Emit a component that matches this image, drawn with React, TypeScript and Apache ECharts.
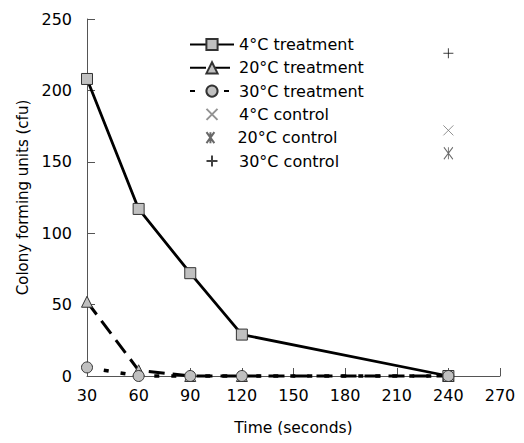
import React, { useEffect, useRef } from "react";
import * as echarts from "echarts";

const times = [30, 60, 90, 120, 240];
const t4 = [208, 117, 72, 29, 0];
const t20 = [52, 4, 0, 0, 0];
const t30 = [6, 0, 0, 0, 0];
const controlTime = 240;
const c4 = 172;
const c20 = 156;
const c30 = 226;
const legendNames = [
  "4°C treatment",
  "20°C treatment",
  "30°C treatment",
  "4°C control",
  "20°C control",
  "30°C control",
];

const FONT = "DejaVu Sans, Liberation Sans, Arial, sans-serif";

const crossPath = "path://M0,0L10,10M10,0L0,10";
const starPath = "path://M0,0L10,14M10,0L0,14M5,0L5,14";
const plusPath = "path://M5,0L5,10M0,5L10,5";

export default function App() {
  const ref = useRef<HTMLDivElement>(null);
  useEffect(() => {
    if (!ref.current) return;
    const chart = echarts.init(ref.current, undefined, { renderer: "svg" });
    const pair = (ys: number[]) => times.map((t, i) => [t, ys[i]]);
    const markerStyle = { color: "#c0c0c0", borderColor: "#333", borderWidth: 1 };
    const legendText = { fontSize: 16, color: "#000", fontFamily: FONT };
    const legends = legendNames.map((n, i) => ({
      orient: "vertical",
      left: i < 3 ? 189 : 204,
      top: 36.5 + i * 23.3,
      padding: 0,
      itemWidth: 44,
      itemHeight: i < 3 ? 14 : 11,
      textStyle: legendText,
      data: [n],
    }));
    chart.setOption({
      animation: false,
      backgroundColor: "#fff",
      textStyle: { fontFamily: FONT },
      grid: { left: 87, right: 24, top: 19, bottom: 67, containLabel: false },
      legend: legends,
      xAxis: {
        type: "value",
        min: 30,
        max: 270,
        interval: 30,
        name: "Time (seconds)",
        nameLocation: "middle",
        nameGap: 44,
        nameTextStyle: { fontSize: 15.5, color: "#000", fontFamily: FONT },
        axisLine: { lineStyle: { color: "#555", width: 1 } },
        axisTick: { inside: true, length: 8, lineStyle: { color: "#555" } },
        axisLabel: { fontSize: 16, color: "#000", margin: 11, fontFamily: FONT },
        splitLine: { show: false },
      },
      yAxis: {
        type: "value",
        min: 0,
        max: 250,
        interval: 50,
        name: "Colony forming units (cfu)",
        nameLocation: "middle",
        nameGap: 56,
        nameTextStyle: { fontSize: 15, color: "#000", fontFamily: FONT },
        axisLine: { show: true, lineStyle: { color: "#555", width: 1 } },
        axisTick: { show: true, inside: true, length: 8, lineStyle: { color: "#555" } },
        axisLabel: { fontSize: 16, color: "#000", margin: 15, fontFamily: FONT },
        splitLine: { show: false },
      },
      series: [
        {
          name: legendNames[0],
          type: "line",
          data: pair(t4),
          clip: false,
          symbol: "rect",
          symbolSize: 11,
          lineStyle: { color: "#000", width: 2.8, type: "solid" },
          itemStyle: markerStyle,
        },
        {
          name: legendNames[1],
          type: "line",
          data: pair(t20),
          clip: false,
          symbol: "triangle",
          symbolSize: 11,
          lineStyle: { color: "#000", width: 3, type: [16, 8] },
          itemStyle: markerStyle,
        },
        {
          name: legendNames[2],
          type: "line",
          data: pair(t30),
          clip: false,
          symbol: "circle",
          symbolSize: 11,
          lineStyle: { color: "#000", width: 3.5, type: [5, 12] },
          itemStyle: markerStyle,
        },
        {
          name: legendNames[3],
          type: "scatter",
          data: [[controlTime, c4]],
          symbol: crossPath,
          symbolSize: 10,
          itemStyle: { color: "none", borderColor: "#777", borderWidth: 1 },
        },
        {
          name: legendNames[4],
          type: "scatter",
          data: [[controlTime, c20]],
          symbol: starPath,
          symbolSize: [9, 12],
          itemStyle: { color: "none", borderColor: "#444", borderWidth: 1 },
        },
        {
          name: legendNames[5],
          type: "scatter",
          data: [[controlTime, c30]],
          symbol: plusPath,
          symbolSize: 10,
          itemStyle: { color: "none", borderColor: "#111", borderWidth: 1 },
        },
      ],
    });
    return () => chart.dispose();
  }, []);
  return <div ref={ref} style={{ width: 524, height: 443, margin: -8 }} />;
}
